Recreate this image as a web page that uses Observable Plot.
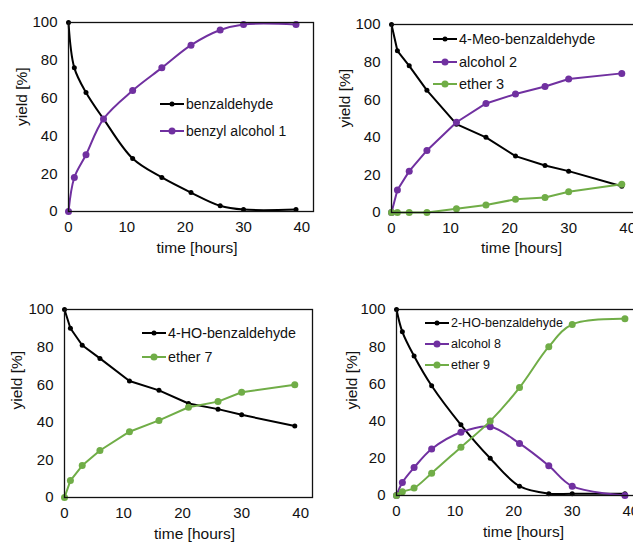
<!DOCTYPE html>
<html><head><meta charset="utf-8">
<script src="https://cdn.jsdelivr.net/npm/d3@7"></script>
<script src="https://cdn.jsdelivr.net/npm/@observablehq/plot@0.6"></script>
<style>
body{margin:0;background:#fff;}
#wrap{position:relative;width:633px;height:542px;overflow:hidden;font-family:"Liberation Sans",Arial,sans-serif;background:#fff;}
.panel{position:absolute;}
.legend{position:absolute;color:#111;}
.legend .row{display:flex;align-items:center;white-space:nowrap;}
.legend svg{flex:none;}
</style></head><body><div id="wrap"></div>
<script>
// ---- data ----
const hours = [0, 1, 3, 6, 11, 16, 21, 26, 30, 39];
const benzaldehyde = [100, 76, 63, 49, 28, 18, 10, 3, 1, 1];
const benzylAlcohol1 = [0, 18, 30, 49, 64, 76, 88, 96, 99, 99];
const meoBenzaldehyde4 = [100, 86, 78, 65, 47, 40, 30, 25, 22, 14];
const alcohol2 = [0, 12, 22, 33, 48, 58, 63, 67, 71, 74];
const ether3 = [0, 0, 0, 0, 2, 4, 7, 8, 11, 15];
const hoBenzaldehyde4 = [100, 90, 81, 74, 62, 57, 50, 47, 44, 38];
const ether7 = [0, 9, 17, 25, 35, 41, 48, 51, 56, 60];
const hoBenzaldehyde2 = [100, 88, 75, 59, 38, 20, 5, 1, 1, 1];
const alcohol8 = [0, 7, 15, 25, 34, 37, 28, 16, 5, 0];
const ether9 = [0, 2, 4, 12, 26, 40, 58, 80, 92, 95];
const xTicks = [0, 10, 20, 30, 40];
const yTicks = [0, 20, 40, 60, 80, 100];
const xLabel = "time [hours]";
const yLabel = "yield [%]";

const BLACK = "#000000", PURPLE = "#7030A0", GREEN = "#70AD47";
const FONT = "'Liberation Sans', Arial, sans-serif";

const panels = [
  {left: 0, top: 0, width: 320, height: 270, mL: 68, mR: 7, mT: 22, mB: 59, curve: "catmull-rom",
   xl: {dx: 6, dy: 37}, yl: {dx: -46, dy: 9},
   legend: {left: 160, top: 90, gap: 27, font: 14},
   series: [
     {name: "benzaldehyde", values: benzaldehyde, color: BLACK, r: 2.5},
     {name: "benzyl alcohol 1", values: benzylAlcohol1, color: PURPLE, r: 3.5}]},
  {left: 320, top: 0, width: 325, height: 270, mL: 71, mR: 6, mT: 24, mB: 58, curve: "linear",
   xl: {dx: 6, dy: 36}, yl: {dx: -46, dy: 9},
   legend: {left: 433, top: 28, gap: 22.5, font: 14.5},
   series: [
     {name: "4-Meo-benzaldehyde", values: meoBenzaldehyde4, color: BLACK, r: 2.5},
     {name: "alcohol 2", values: alcohol2, color: PURPLE, r: 3.5},
     {name: "ether 3", values: ether3, color: GREEN, r: 3.5}]},
  {left: 0, top: 290, width: 320, height: 252, mL: 64, mR: 8, mT: 19, mB: 45, curve: "linear",
   xl: {dx: 6, dy: 37}, yl: {dx: -47, dy: 6},
   legend: {left: 142, top: 321, gap: 24, font: 14.3},
   series: [
     {name: "4-HO-benzaldehyde", values: hoBenzaldehyde4, color: BLACK, r: 2.5},
     {name: "ether 7", values: ether7, color: GREEN, r: 3.5}]},
  {left: 320, top: 290, width: 330, height: 252, mL: 76, mR: 8, mT: 19, mB: 47, curve: "catmull-rom",
   xl: {dx: 4, dy: 37}, yl: {dx: -44, dy: 7},
   legend: {left: 425, top: 312.5, gap: 21, font: 12.5},
   series: [
     {name: "2-HO-benzaldehyde", values: hoBenzaldehyde2, color: BLACK, r: 2.5},
     {name: "alcohol 8", values: alcohol8, color: PURPLE, r: 3.5},
     {name: "ether 9", values: ether9, color: GREEN, r: 3.5}]}
];

const wrap = document.getElementById("wrap");

for (const p of panels) {
  const marks = [];
  for (const s of p.series) {
    const rows = hours.map((t, i) => ({t, v: s.values[i]}));
    marks.push(Plot.line(rows, {x: "t", y: "v", stroke: s.color, strokeWidth: 2, curve: p.curve}));
    marks.push(Plot.dot(rows, {x: "t", y: "v", r: s.r, fill: s.color, stroke: "none"}));
  }
  marks.push(Plot.frame({stroke: "#111", strokeWidth: 1.3}));
  marks.push(Plot.text([xLabel], {text: d => d, frameAnchor: "bottom", dx: p.xl.dx, dy: p.xl.dy,
    fontSize: 15.5, lineAnchor: "middle", fill: "#111"}));
  marks.push(Plot.text([yLabel], {text: d => d, frameAnchor: "left", dx: p.yl.dx, dy: p.yl.dy,
    rotate: -90, fontSize: 15.5, lineAnchor: "middle", fill: "#111"}));
  const chart = Plot.plot({
    width: p.width, height: p.height,
    marginLeft: p.mL, marginRight: p.mR, marginTop: p.mT, marginBottom: p.mB,
    style: {fontSize: "15px", fontFamily: FONT, color: "#111", background: "transparent", overflow: "visible"},
    x: {domain: [0, 42], ticks: xTicks, tickSize: 0, tickPadding: 10, label: null},
    y: {domain: [0, 100], ticks: yTicks, tickSize: 0, tickPadding: 11, label: null},
    marks
  });
  chart.classList.add("panel");
  chart.style.left = p.left + "px";
  chart.style.top = p.top + "px";
  wrap.appendChild(chart);

  const lg = document.createElement("div");
  lg.className = "legend";
  lg.style.left = p.legend.left + "px";
  lg.style.top = p.legend.top + "px";
  lg.style.fontSize = p.legend.font + "px";
  for (const s of p.series) {
    const row = document.createElement("div");
    row.className = "row";
    row.style.height = p.legend.gap + "px";
    const ns = "http://www.w3.org/2000/svg";
    const sw = document.createElementNS(ns, "svg");
    sw.setAttribute("width", 25); sw.setAttribute("height", 10);
    const ln = document.createElementNS(ns, "line");
    ln.setAttribute("x1", 0); ln.setAttribute("x2", 24); ln.setAttribute("y1", 5); ln.setAttribute("y2", 5);
    ln.setAttribute("stroke", s.color); ln.setAttribute("stroke-width", 2);
    const c = document.createElementNS(ns, "circle");
    c.setAttribute("cx", 12); c.setAttribute("cy", 5); c.setAttribute("r", s.r); c.setAttribute("fill", s.color);
    sw.appendChild(ln); sw.appendChild(c);
    const tx = document.createElement("span");
    tx.textContent = s.name;
    tx.style.marginLeft = "1px";
    row.appendChild(sw); row.appendChild(tx);
    lg.appendChild(row);
  }
  wrap.appendChild(lg);
}
</script></body></html>
